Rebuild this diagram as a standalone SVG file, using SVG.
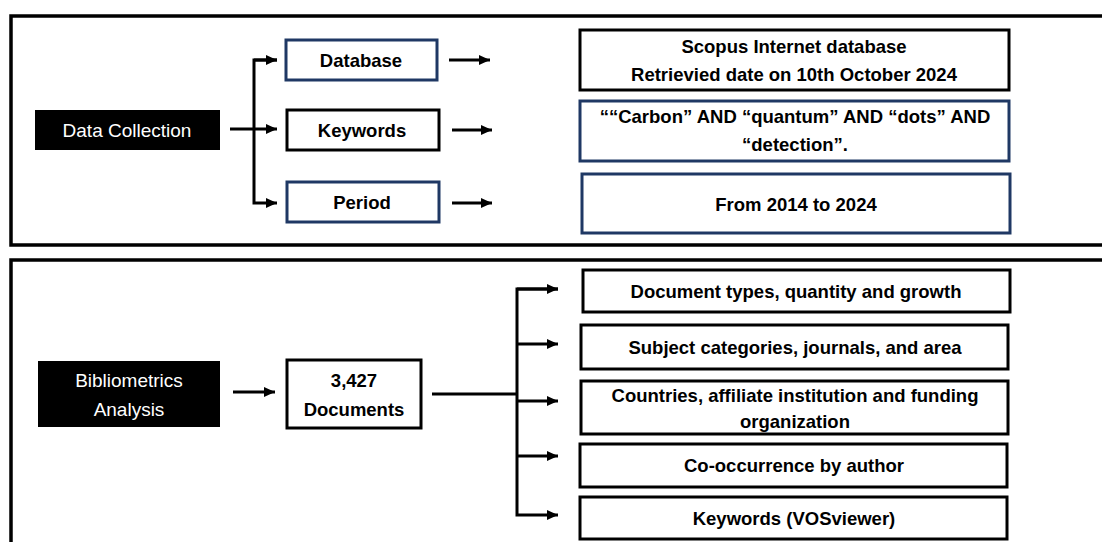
<svg xmlns="http://www.w3.org/2000/svg" width="1102" height="542" viewBox="0 0 1102 542">
<defs>
<marker id="ah" markerUnits="userSpaceOnUse" markerWidth="12" markerHeight="10" refX="11" refY="5" orient="auto">
<path d="M0,0 L11,5 L0,10 Z" fill="#000"/>
</marker>
<style>
.panel{fill:none;stroke:#000;stroke-width:3.5}
.blk{fill:#000;stroke:none}
.bx{fill:#fff;stroke:#000;stroke-width:3}
.nv{fill:#fff;stroke:#1f3864;stroke-width:3}
.w{font-family:"Liberation Sans",Arial,sans-serif;font-size:19px;fill:#fff;text-anchor:middle}
.t{font-family:"Liberation Sans",Arial,sans-serif;font-size:18.5px;font-weight:bold;fill:#000;text-anchor:middle}
.c{fill:none;stroke:#000;stroke-width:3}
</style>
</defs>
<rect width="1102" height="542" fill="#fff"/>
<path class="panel" d="M1110,16 H11 V245 H1110"/>
<path class="panel" d="M1110,260 H11 V550"/>

<g id="connectors">
<path class="c" d="M230,129 H277" marker-end="url(#ah)"/>
<path class="c" d="M277,60 H254 V203 H277" marker-end="url(#ah)"/>
<path class="c" d="M254,60 H277" marker-end="url(#ah)"/>
<path class="c" d="M449,60 H490" marker-end="url(#ah)"/>
<path class="c" d="M452,130 H492" marker-end="url(#ah)"/>
<path class="c" d="M452,203 H492" marker-end="url(#ah)"/>
<path class="c" d="M233,392 H275" marker-end="url(#ah)"/>
<path class="c" d="M432,394 H517"/>
<path class="c" d="M558,289 H517 V515 H558" marker-end="url(#ah)"/>
<path class="c" d="M517,289 H558" marker-end="url(#ah)"/>
<path class="c" d="M517,344 H558" marker-end="url(#ah)"/>
<path class="c" d="M517,401 H558" marker-end="url(#ah)"/>
<path class="c" d="M517,456 H558" marker-end="url(#ah)"/>
</g>

<g id="data-collection">
<rect class="blk" x="35" y="110" width="185" height="40"/>
<text class="w" x="127" y="137">Data Collection</text>
</g>
<g id="database">
<rect class="nv" x="286" y="40" width="151" height="40"/>
<text class="t" x="361" y="67">Database</text>
</g>
<g id="keywords">
<rect class="bx" x="287" y="110" width="152" height="40"/>
<text class="t" x="362" y="137">Keywords</text>
</g>
<g id="period">
<rect class="nv" x="287" y="182" width="152" height="40"/>
<text class="t" x="362" y="209">Period</text>
</g>
<g id="scopus">
<rect class="bx" x="580" y="30" width="429" height="60"/>
<text class="t" x="794" y="53">Scopus Internet database</text>
<text class="t" x="794" y="81">Retrievied date on 10th October 2024</text>
</g>
<g id="query">
<rect class="nv" x="580" y="101" width="429" height="60"/>
<text class="t" x="795" y="123">““Carbon” AND “quantum” AND “dots” AND</text>
<text class="t" x="795" y="151">“detection”.</text>
</g>
<g id="years">
<rect class="nv" x="582" y="174" width="428" height="59"/>
<text class="t" x="796" y="211">From 2014 to 2024</text>
</g>

<g id="bibliometrics">
<rect class="blk" x="38" y="361" width="182" height="66"/>
<text class="w" x="129" y="387">Bibliometrics</text>
<text class="w" x="129" y="416">Analysis</text>
</g>
<g id="documents">
<rect class="bx" x="287" y="360" width="134" height="68"/>
<text class="t" x="354" y="387">3,427</text>
<text class="t" x="354" y="416">Documents</text>
</g>
<g id="doc-types">
<rect class="bx" x="583" y="270" width="427" height="42"/>
<text class="t" x="796" y="298">Document types, quantity and growth</text>
</g>
<g id="subjects">
<rect class="bx" x="581" y="325" width="427" height="44"/>
<text class="t" x="795" y="354">Subject categories, journals, and area</text>
</g>
<g id="countries">
<rect class="bx" x="581" y="381" width="427" height="53"/>
<text class="t" x="795" y="402">Countries, affiliate institution and funding</text>
<text class="t" x="795" y="428">organization</text>
</g>
<g id="cooccurrence">
<rect class="bx" x="580" y="444" width="427" height="43"/>
<text class="t" x="794" y="472">Co-occurrence by author</text>
</g>
<g id="vosviewer">
<rect class="bx" x="580" y="497" width="427" height="42"/>
<text class="t" x="794" y="525">Keywords (VOSviewer)</text>
</g>
</svg>
